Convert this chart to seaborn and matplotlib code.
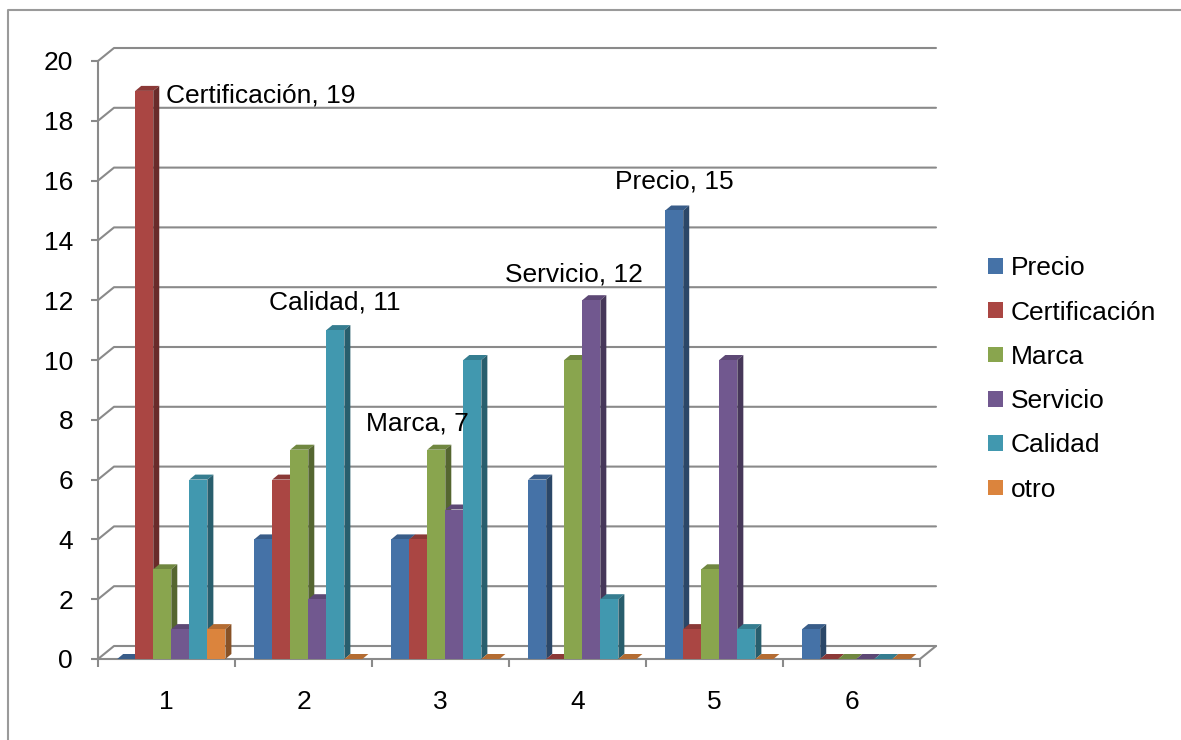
import numpy as np
import pandas as pd
import matplotlib
matplotlib.use("Agg")
import matplotlib.pyplot as plt
import seaborn as sns
from matplotlib.patches import Polygon
from matplotlib.lines import Line2D
from matplotlib.transforms import IdentityTransform
from matplotlib.colors import to_rgb

# ---- data ----
groups = ["1", "2", "3", "4", "5", "6"]
series = ["Precio", "Certificación", "Marca", "Servicio", "Calidad", "otro"]
precio = [0, 4, 4, 6, 15, 1]
certificacion = [19, 6, 4, 0, 1, 0]
marca = [3, 7, 7, 10, 3, 0]
servicio = [1, 2, 5, 12, 10, 0]
calidad = [6, 11, 10, 2, 1, 0]
otro = [1, 0, 0, 0, 0, 0]
y_ticks = list(range(0, 21, 2))

# bars that carry a "Serie, valor" label: (series, group)
labelled = [("Certificación", "1"), ("Calidad", "2"), ("Marca", "3"),
            ("Servicio", "4"), ("Precio", "5")]

# ---- styling ----
colors = ["#4572A7", "#AA4643", "#89A54E", "#71588F", "#4198AF", "#DB843D"]
grid_color = "#8a8a8a"
label_offsets = {  # pixel offset of each label's baseline-centre from the bar's top
    ("Certificación", "1"): (117, -12),
    ("Calidad", "2"): (-1, 21),
    ("Marca", "3"): (-19, 19),
    ("Servicio", "4"): (-17, 19),
    ("Precio", "5"): (0, 22),
}
WALL = np.array([16.0, 13.0])   # depth of the back wall (px)
BAR_D = np.array([6.0, 5.0])    # depth of each column (px)
SHIFT = 0.035                   # columns sit slightly right of the category centre

values = [precio, certificacion, marca, servicio, calidad, otro]
df = pd.DataFrame(
    [(g, s, v) for s, vals in zip(series, values) for g, v in zip(groups, vals)],
    columns=["grupo", "serie", "valor"],
)

sns.set_style("white")
plt.rcParams["font.family"] = ["Liberation Sans", "DejaVu Sans"]
plt.rcParams["text.color"] = "black"
plt.rcParams["xtick.color"] = "black"
plt.rcParams["ytick.color"] = "black"
FS = 19

W, H = 1181, 740
fig = plt.figure(figsize=(W / 100, H / 100), dpi=100)
ax = fig.add_axes([98 / W, (H - 659) / H, 822 / W, 598 / H])
ax.set_autoscale_on(False)

sns.barplot(data=df, x="grupo", y="valor", hue="serie", order=groups,
            hue_order=series, palette=colors, width=0.79, saturation=1,
            errorbar=None, ax=ax, legend=True)

ax.set_autoscale_on(False)
ax.set_xlim(-0.5, 5.5)
ax.set_ylim(0, 20)
ax.set_xlabel("")
ax.set_ylabel("")

# spines: only the front floor edge and the front left edge
for side in ["top", "right"]:
    ax.spines[side].set_visible(False)
for side in ["left", "bottom"]:
    ax.spines[side].set_color(grid_color)
    ax.spines[side].set_linewidth(1.5)
    ax.spines[side].set_zorder(1)

ax.set_yticks(y_ticks)
ax.set_yticklabels([str(v) for v in y_ticks], fontsize=FS, color="black")
ax.tick_params(axis="y", length=5, width=1.5, color=grid_color, pad=13,
               direction="out", left=True, labelcolor="black")
ax.set_xticks(range(len(groups)))
ax.set_xticklabels(groups, fontsize=FS, color="black")
ax.set_xticks(np.arange(-0.5, 6.0, 1.0), minor=True)
ax.tick_params(axis="x", which="major", length=0, pad=22, labelcolor="black")
ax.tick_params(axis="x", which="minor", length=6, width=1.5, color=grid_color,
               direction="out", bottom=True)

# back wall gridlines with the oblique side-wall segment
td = ax.transData
for v in y_ticks:
    p_front = td.transform((-0.5, v))
    p_back = p_front + WALL
    p_right = td.transform((5.5, v)) + WALL
    pts = np.array([p_front, p_back, p_right])
    ax.add_line(Line2D(pts[:, 0], pts[:, 1], transform=IdentityTransform(),
                       color=grid_color, lw=1.5, zorder=0.5, clip_on=False))
# right edge of the floor
fr = td.transform((5.5, 0))
pts = np.array([fr, fr + WALL])
ax.add_line(Line2D(pts[:, 0], pts[:, 1], transform=IdentityTransform(),
                   color=grid_color, lw=1.5, zorder=0.5, clip_on=False))


def shade(c, f):
    r, g, b = to_rgb(c)
    return (r * f, g * f, b * f)


# columns: front face from seaborn, plus top and side faces for depth
bar_tops = {}
for i, cont in enumerate(ax.containers):
    col = colors[i]
    for j, bar in enumerate(cont):
        bar.set_x(bar.get_x() + SHIFT)
        bar.set_facecolor(col)
        bar.set_edgecolor("none")
        bar.set_zorder(3)
        x0 = bar.get_x()
        x1 = x0 + bar.get_width()
        h = bar.get_height()
        xa, ya = td.transform((x0, 0))
        xb, yb = td.transform((x1, h))
        top = [(xa, yb), (xb, yb), (xb + BAR_D[0], yb + BAR_D[1]), (xa + BAR_D[0], yb + BAR_D[1])]
        side = [(xb, ya), (xb + BAR_D[0], ya + BAR_D[1]), (xb + BAR_D[0], yb + BAR_D[1]), (xb, yb)]
        ax.add_patch(Polygon(top, closed=True, transform=IdentityTransform(),
                             facecolor=shade(col, 0.82), edgecolor="none",
                             zorder=2, clip_on=False))
        ax.add_patch(Polygon(side, closed=True, transform=IdentityTransform(),
                             facecolor=shade(col, 0.62), edgecolor="none",
                             zorder=2, clip_on=False))
        bar_tops[(series[i], groups[j])] = (x0 + bar.get_width() / 2, h)

# data labels
val_lookup = dict(zip(series, values))
for s, g in labelled:
    v = val_lookup[s][groups.index(g)]
    xc, h = bar_tops[(s, g)]
    dx, dy = label_offsets[(s, g)]
    ax.annotate(f"{s}, {v}", xy=(xc, h), xytext=(dx, dy),
                textcoords="offset pixels", ha="center", va="baseline",
                fontsize=FS, color="black", zorder=5, annotation_clip=False)

# legend
handles = [plt.Rectangle((0, 0), 1, 1, facecolor=c, edgecolor="none") for c in colors]
old = ax.get_legend()
if old is not None:
    old.remove()
leg = fig.legend(handles, series, loc="center left",
                 bbox_to_anchor=(988 / W, 1 - 379 / H), frameon=False,
                 fontsize=FS, handlelength=0.55, handleheight=0.55,
                 handletextpad=0.3, labelspacing=0.77, borderpad=0,
                 borderaxespad=0)
for t in leg.get_texts():
    t.set_color("black")

# outer chart border
fig.add_artist(Line2D([8 / W, 8 / W, 1.0], [0.0, 1 - 10 / H, 1 - 10 / H],
                      transform=fig.transFigure, color="#9a9a9a", lw=1.5))

fig.savefig("out.png", dpi=100, facecolor="white")
